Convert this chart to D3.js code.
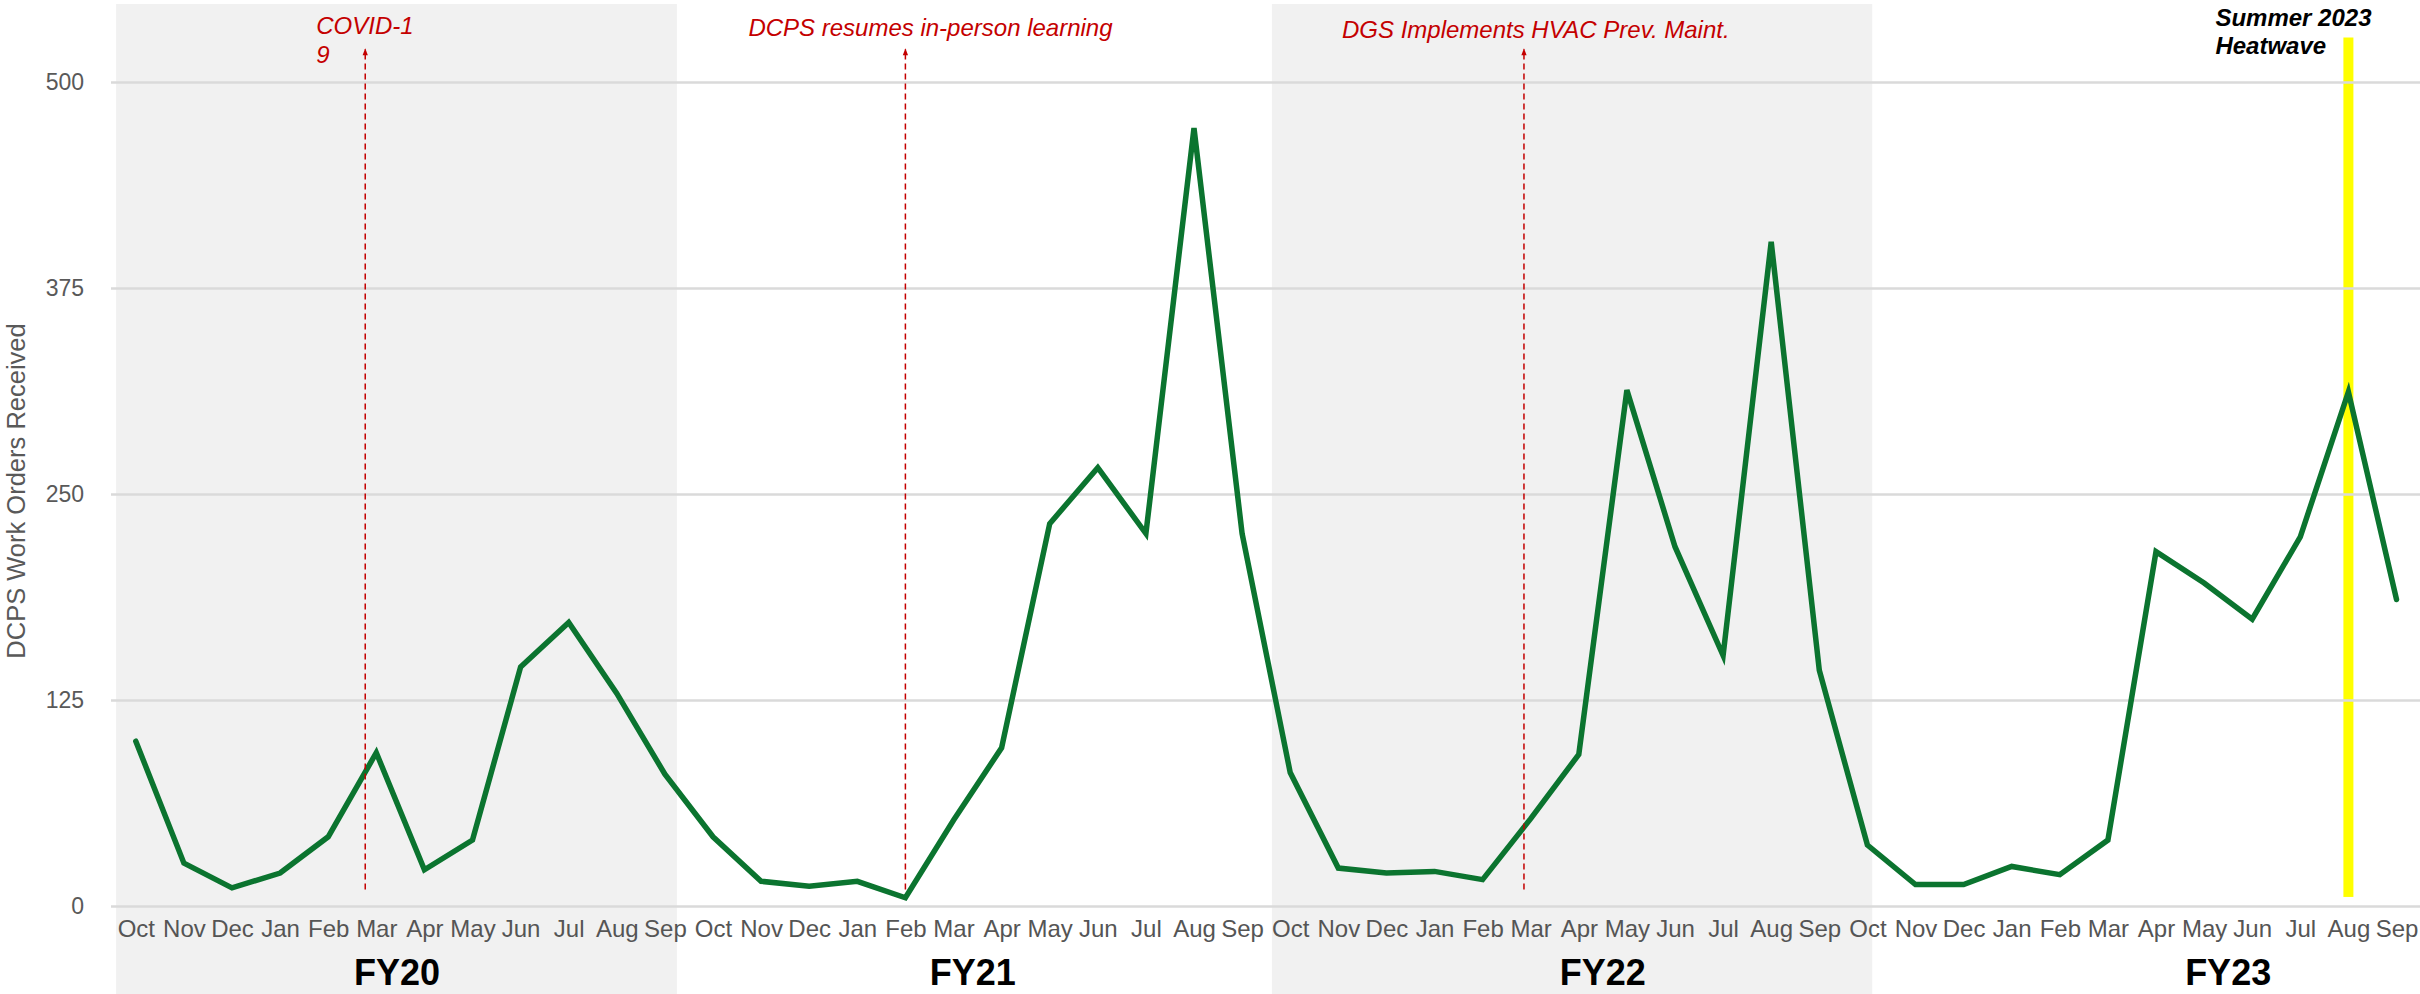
<!DOCTYPE html>
<html>
  <head>
    <title>DCPS Work Orders Received</title>
    <meta charset="utf-8" />
    <script src="https://d3js.org/d3.v7.min.js"></script>
    <style>
        body {
          margin: 0;
          background: #fff;
        }

        svg {
          display: block;
          font-family: "Liberation Sans", Arial, Helvetica, sans-serif;
        }

        .axis path {
          display: none;
        }

        .grid line {
          stroke: #dadada;
          stroke-width: 2.5;
        }
    </style>
  </head>
  <body>

<svg width="2420" height="994"></svg>

    <script type="text/javascript">

        // data
        var monthNames = ["Oct", "Nov", "Dec", "Jan", "Feb", "Mar", "Apr", "May", "Jun", "Jul", "Aug", "Sep"];
        var fiscalYears = ["FY20", "FY21", "FY22", "FY23"];

        var fy20Orders = [100, 26, 11, 20, 42, 93, 22, 40, 145, 172, 129, 80];
        var fy21Orders = [42, 15, 12, 15, 5, 52, 96, 232, 266, 226, 472, 226];
        var fy22Orders = [81, 23, 20, 21, 16, 53, 92, 313, 218, 152, 403, 143];
        var fy23Orders = [37, 13, 13, 24, 19, 40, 215, 196, 174, 224, 312, 186];

        var yTicks = [0, 125, 250, 375, 500];

        // grey bands behind FY20 and FY22 (in month-index units)
        var shadeStart = [-0.41, 23.62];
        var shadeEnd = [11.25, 36.1];

        // where the FY labels sit (month-index units)
        var fyLabelAt = [5.43, 17.4, 30.5, 43.5];

        // event markers
        var eventLines = [["COVID-1", "9"], ["DCPS resumes in-person learning"], ["DGS Implements HVAC Prev. Maint."]];
        var eventAt = [4.77, 16.0, 28.86];
        var eventRange = [10, 520];

        var heatwaveLines = ["Summer 2023", "Heatwave"];
        var heatwaveAt = 46;
        var heatwaveRange = [5.5, 527];

        var orders = fy20Orders.concat(fy21Orders, fy22Orders, fy23Orders);
        var monthLabels = [];
        fiscalYears.forEach(function() { monthLabels = monthLabels.concat(monthNames); });

        var svg = d3.select("svg"),
            width = +svg.attr("width"),
            height = +svg.attr("height"),
            plotLeft = 111;

        var x = d3.scaleLinear().domain([0, orders.length - 1]).range([135.8, 2396.5]),
            y = d3.scaleLinear().domain([0, 500]).range([906, 82]);

        var red = "#c40000";

        // shaded fiscal years
        svg.selectAll(".band")
          .data(shadeStart)
          .enter().append("rect")
            .attr("class", "band")
            .attr("x", function(d) { return x(d); })
            .attr("y", 4)
            .attr("width", function(d, i) { return x(shadeEnd[i]) - x(d); })
            .attr("height", height - 4)
            .attr("fill", "#f1f1f1");

        // heatwave highlight
        svg.append("rect")
            .attr("x", x(heatwaveAt) - 5)
            .attr("y", y(heatwaveRange[1]))
            .attr("width", 10)
            .attr("height", y(heatwaveRange[0]) - y(heatwaveRange[1]))
            .attr("fill", "#ffff00");

        // y axis + gridlines
        var yAxis = svg.append("g")
            .attr("class", "axis grid")
            .attr("transform", "translate(" + plotLeft + ",0)")
            .call(d3.axisLeft(y)
              .tickValues(yTicks)
              .tickSizeInner(-(width - plotLeft))
              .tickSizeOuter(0)
              .tickPadding(27));
        yAxis.selectAll("text")
            .style("font-size", "23px")
            .style("font-family", "'Liberation Sans', Arial, sans-serif")
            .style("fill", "#595959");

        svg.append("text")
            .attr("transform", "translate(25,491) rotate(-90)")
            .attr("text-anchor", "middle")
            .style("font-size", "25.5px")
            .style("fill", "#595959")
            .text("DCPS Work Orders Received");

        // the series
        var line = d3.line()
            .x(function(d, i) { return x(i); })
            .y(function(d) { return y(d); });

        svg.append("path")
            .datum(orders)
            .attr("d", line)
            .attr("fill", "none")
            .attr("stroke", "#0b742f")
            .attr("stroke-width", 5.5)
            .attr("stroke-linecap", "round");

        // month labels
        var xAxis = svg.append("g")
            .attr("class", "axis")
            .attr("transform", "translate(0," + y(0) + ")")
            .call(d3.axisBottom(x)
              .tickValues(d3.range(orders.length))
              .tickFormat(function(i) { return monthLabels[i]; })
              .tickSize(0)
              .tickPadding(14));
        xAxis.selectAll("text")
            .style("font-size", "24px")
            .style("font-family", "'Liberation Sans', Arial, sans-serif")
            .style("fill", "#555");

        // fiscal year labels
        svg.selectAll(".fy")
          .data(fiscalYears)
          .enter().append("text")
            .attr("class", "fy")
            .attr("x", function(d, i) { return x(fyLabelAt[i]); })
            .attr("y", 985)
            .attr("text-anchor", "middle")
            .style("font-size", "36px")
            .style("font-weight", "bold")
            .style("fill", "#000")
            .text(function(d) { return d; });

        // event arrows
        svg.append("defs").append("marker")
            .attr("id", "arrow")
            .attr("viewBox", "0 -4 8 8")
            .attr("refX", 7)
            .attr("refY", 0)
            .attr("markerUnits", "userSpaceOnUse")
            .attr("markerWidth", 8)
            .attr("markerHeight", 7)
            .attr("orient", "auto")
          .append("path")
            .attr("d", "M0,-3L8,0L0,3Z")
            .attr("fill", red);

        svg.selectAll(".event")
          .data(eventAt)
          .enter().append("line")
            .attr("class", "event")
            .attr("x1", function(d) { return x(d); })
            .attr("x2", function(d) { return x(d); })
            .attr("y1", y(eventRange[0]))
            .attr("y2", y(eventRange[1]))
            .attr("stroke", red)
            .attr("stroke-width", 1.5)
            .attr("stroke-dasharray", "6,4")
            .attr("marker-end", "url(#arrow)");

        // label offsets from each arrow
        var eventDx = [-49, -157, -182],
            eventBase = [34, 36, 38];

        var eventText = svg.selectAll(".eventLabel")
          .data(eventLines)
          .enter().append("text")
            .attr("class", "eventLabel")
            .attr("x", function(d, i) { return x(eventAt[i]) + eventDx[i]; })
            .attr("y", function(d, i) { return eventBase[i]; })
            .style("font-size", "24px")
            .style("font-style", "italic")
            .style("fill", red);
        eventText.selectAll("tspan")
          .data(function(d) { return d; })
          .enter().append("tspan")
            .attr("x", function() { return d3.select(this.parentNode).attr("x"); })
            .attr("dy", function(d, i) { return i ? 29 : 0; })
            .text(function(d) { return d; });

        // heatwave label
        svg.append("text")
            .attr("x", x(heatwaveAt) - 133)
            .attr("y", 26)
            .style("font-size", "24px")
            .style("font-style", "italic")
            .style("font-weight", "bold")
            .style("fill", "#000")
          .selectAll("tspan")
          .data(heatwaveLines)
          .enter().append("tspan")
            .attr("x", x(heatwaveAt) - 133)
            .attr("dy", function(d, i) { return i ? 28 : 0; })
            .text(function(d) { return d; });

    </script>

  </body>
</html>
